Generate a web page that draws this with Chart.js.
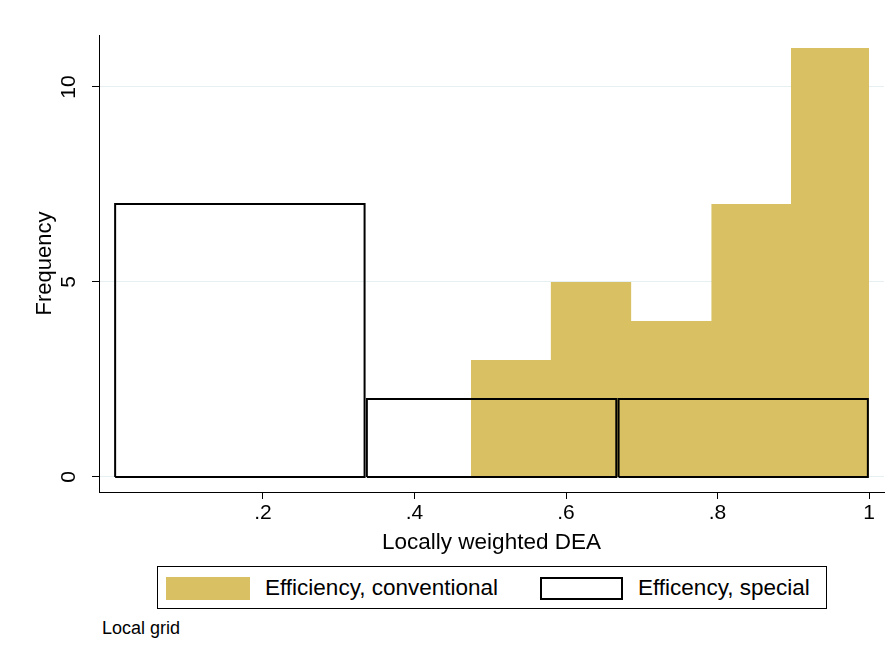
<!DOCTYPE html>
<html>
<head>
<meta charset="utf-8">
<script src="https://cdn.jsdelivr.net/npm/chart.js@4.4.1/dist/chart.umd.min.js"></script>
<style>
  body { margin: 0; background: #fff; font-family: "Liberation Sans", Arial, sans-serif; }
  #wrap { position: relative; width: 895px; height: 660px; }
  #c { position: absolute; left: 0; top: 0; }
  #legend { position: absolute; left: 157px; top: 566px; width: 668px; height: 41px; border: 1px solid #000; }
  .sw { position: absolute; top: 10px; height: 23px; }
  .lt { position: absolute; top: 8px; font-size: 22.5px; line-height: 26px; color: #000; white-space: nowrap; }
  #note { position: absolute; left: 102px; top: 618px; font-size: 18px; color: #000; }
</style>
</head>
<body>
<div id="wrap">
  <canvas id="c" width="895" height="560"></canvas>
  <div id="legend">
    <div class="sw" style="left:8px;width:84px;background:#D8C063"></div>
    <div class="lt" style="left:107px">Efficiency, conventional</div>
    <div class="sw" style="left:382px;width:79px;height:19px;border:2px solid #000;top:10px"></div>
    <div class="lt" style="left:480px">Efficency, special</div>
  </div>
  <div id="note">Local grid</div>
</div>
<script>
// histogram bins
const convEdges = [0.4746, 0.580, 0.686, 0.792, 0.897, 1.0];
const convCounts = [3, 5, 4, 7, 11];
const specEdges = [0.0033, 0.3356, 0.6679, 1.0];
const specCounts = [7, 2, 2];
const xTicks = [0.2, 0.4, 0.6, 0.8, 1];
const yTicks = [0, 5, 10];

const gold = "#D8C063";
const font = "'Liberation Sans', Arial, sans-serif";
const inset = 0.0015;

// conventional: one stepped filled line
const convPts = convEdges.map((x, i) => ({x: x, y: convCounts[Math.min(i, convCounts.length - 1)]}));

// special: one outlined box per bin
const specSets = specCounts.map((h, i) => {
  const x0 = specEdges[i] + inset, x1 = specEdges[i + 1] - inset;
  return {
    data: [{x: x0, y: 0}, {x: x0, y: h}, {x: x1, y: h}, {x: x1, y: 0}, {x: x0, y: 0}],
    showLine: true,
    borderColor: "#000",
    borderWidth: 2,
    backgroundColor: "#fff",
    fill: "origin",
    pointRadius: 0,
    tension: 0,
    order: 0
  };
});

// y tick labels are turned like the title
const yLabels = {
  id: "yLabels",
  afterDraw(chart) {
    const ctx = chart.ctx, s = chart.scales.y;
    ctx.save();
    ctx.fillStyle = "#000";
    ctx.font = "21px " + font;
    ctx.textAlign = "center";
    ctx.textBaseline = "middle";
    yTicks.forEach(v => {
      ctx.save();
      ctx.translate(69, s.getPixelForValue(v));
      ctx.rotate(-Math.PI / 2);
      ctx.fillText(String(v), 0, 0);
      ctx.restore();
    });
    ctx.restore();
  }
};

const config = {
  type: "scatter",
  data: {
    datasets: [
      ...specSets,
      {
        data: convPts,
        showLine: true,
        stepped: "before",
        borderWidth: 0,
        borderColor: gold,
        backgroundColor: gold,
        fill: "origin",
        pointRadius: 0,
        order: 1
      }
    ]
  },
  options: {
    responsive: false,
    animation: false,
    devicePixelRatio: 1,
    layout: { padding: { top: 35, right: 11, left: 0, bottom: 0 } },
    plugins: { legend: { display: false }, tooltip: { enabled: false } },
    scales: {
      x: {
        type: "linear",
        min: -0.0165,
        max: 1.0198,
        afterBuildTicks: s => { s.ticks = xTicks.map(v => ({value: v})); },
        afterFit: s => { s.height = 68; },
        grid: { drawOnChartArea: false, tickColor: "#000", tickLength: 7 },
        border: { color: "#000", width: 1 },
        ticks: {
          color: "#000",
          font: { size: 21, family: font },
          padding: 2,
          maxRotation: 0,
          callback: v => String(v).replace(/^0\./, ".")
        },
        title: {
          display: true,
          text: "Locally weighted DEA",
          color: "#000",
          font: { size: 22.5, family: font },
          padding: { top: 0, bottom: 4 }
        }
      },
      y: {
        min: -0.385,
        max: 11.333,
        afterBuildTicks: s => { s.ticks = yTicks.map(v => ({value: v})); },
        afterFit: s => { s.width = 99; },
        grid: { color: "#E6EFF1", lineWidth: 1, tickColor: "#000", tickLength: 7 },
        border: { color: "#000", width: 1 },
        ticks: { display: false },
        title: {
          display: true,
          text: "Frequency",
          color: "#000",
          font: { size: 22, family: font },
          padding: { top: 32, bottom: 0 }
        }
      }
    }
  },
  plugins: [yLabels]
};

new Chart(document.getElementById("c"), config);
</script>
</body>
</html>
